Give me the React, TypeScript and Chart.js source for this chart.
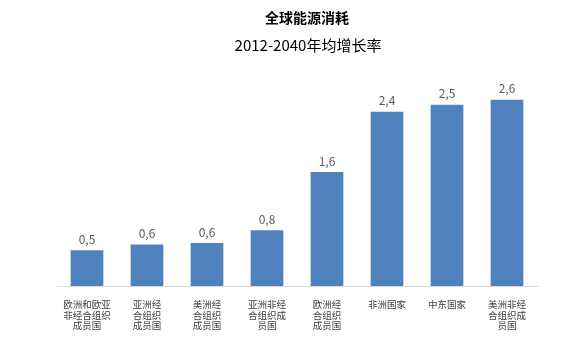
import React, { useEffect, useRef } from "react";
import { Chart, registerables } from "chart.js";

Chart.register(...registerables);

const categories: string[][] = [
  ["欧洲和欧亚", "非经合组织", "成员国"],
  ["亚洲经", "合组织", "成员国"],
  ["美洲经", "合组织", "成员国"],
  ["亚洲非经", "合组织成", "员国"],
  ["欧洲经", "合组织", "成员国"],
  ["非洲国家"],
  ["中东国家"],
  ["美洲非经", "合组织成", "员国"],
];
const growthValues: number[] = [0.5, 0.58, 0.6, 0.78, 1.59, 2.43, 2.53, 2.6];
const titleText = "全球能源消耗";
const subtitleText = "2012-2040年均增长率";

const FONT = "'Noto Sans CJK SC', 'Noto Sans', sans-serif";

const valueLabelPlugin = {
  id: "valueLabels",
  afterDatasetsDraw(chart: any) {
    const ctx = chart.ctx;
    const meta = chart.getDatasetMeta(0);
    ctx.save();
    ctx.font = `12px ${FONT}`;
    ctx.fillStyle = "#595959";
    ctx.textAlign = "center";
    ctx.textBaseline = "bottom";
    meta.data.forEach((el: any, i: number) => {
      const v = growthValues[i];
      ctx.fillText(v.toFixed(1).replace(".", ","), el.x, el.y - 5);
    });
    ctx.restore();
  },
};

const titlePlugin = {
  id: "twoLineTitle",
  afterDraw(chart: any) {
    const ctx = chart.ctx;
    const cx = (chart.chartArea.left + chart.chartArea.right) / 2 + 10;
    ctx.save();
    ctx.fillStyle = "#000000";
    ctx.textAlign = "center";
    ctx.textBaseline = "middle";
    ctx.font = `bold 14px ${FONT}`;
    ctx.fillText(titleText, cx, 18);
    ctx.font = `15px ${FONT}`;
    ctx.fillText(subtitleText, cx + 1, 45);
    ctx.restore();
  },
};

export default function App() {
  const ref = useRef<HTMLCanvasElement | null>(null);
  useEffect(() => {
    if (!ref.current) return;
    const chart = new Chart(ref.current, {
      type: "bar",
      data: {
        labels: categories,
        datasets: [
          {
            data: growthValues,
            backgroundColor: "#4F81BD",
            categoryPercentage: 1,
            barPercentage: 0.545,
          },
        ],
      },
      options: {
        animation: false,
        responsive: false,
        layout: { padding: { left: 57, right: 48, top: 71, bottom: 17 } },
        plugins: {
          legend: { display: false },
          tooltip: { enabled: false },
          title: { display: false },
        },
        scales: {
          x: {
            grid: { display: false },
            border: { display: true, color: "#D9D9D9", width: 1 },
            ticks: {
              color: "#404040",
              font: { family: FONT, size: 9.5, lineHeight: 1.12 },
              padding: 5,
              maxRotation: 0,
              autoSkip: false,
            },
          },
          y: {
            display: false,
            min: 0,
            max: 3,
          },
        },
      },
      plugins: [valueLabelPlugin, titlePlugin],
    });
    return () => chart.destroy();
  }, []);
  return (
    <div style={{ position: "fixed", left: 0, top: 0, width: 585, height: 353, background: "#fff" }}>
      <canvas ref={ref} width={585} height={353} style={{ width: 585, height: 353 }} />
    </div>
  );
}
